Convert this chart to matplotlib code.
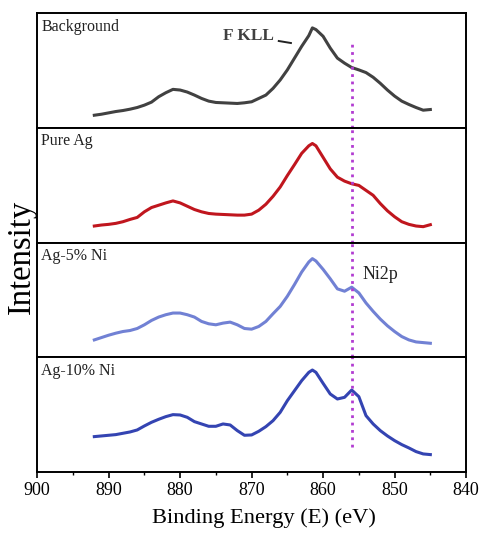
import numpy as np
import matplotlib.pyplot as plt
from matplotlib.ticker import MultipleLocator

plt.rcParams['font.family'] = ['Liberation Serif', 'DejaVu Serif']

# binding energy (eV) and intensity (a.u.)
energy = [892, 891, 890, 889, 888, 887, 886, 885, 884, 883, 882, 881, 880, 879,
          878, 877, 876, 875, 874, 873, 872, 871, 870, 869, 868, 867, 866, 865,
          864, 863, 862, 861.5, 861, 860, 859, 858, 857, 856, 855, 854, 853,
          852, 851, 850, 849, 848, 847, 846, 845]

background = [37, 40, 44, 48, 51, 55, 60, 67, 76, 92, 104, 114, 112, 106,
              97, 87, 79, 75, 74, 73, 72, 74, 77, 87, 97, 117, 142, 172,
              207, 242, 274, 297, 292, 272, 237, 207, 192, 179, 172, 164, 150,
              132, 112, 94, 79, 69, 60, 52, 54]

pure_ag = [50, 53, 55, 58, 63, 70, 76, 93, 106, 113, 120, 126, 120, 110,
           100, 93, 88, 86, 85, 84, 83, 83, 86, 98, 116, 140, 168, 203,
           236, 270, 293, 300, 293, 258, 223, 198, 186, 178, 173, 158, 143,
           118, 96, 78, 63, 55, 50, 48, 54]

ag_5ni = [52, 59, 66, 72, 77, 80, 86, 97, 110, 120, 127, 132, 132, 127,
          120, 107, 100, 97, 102, 105, 97, 86, 84, 92, 107, 130, 152, 182,
          217, 254, 284, 294, 287, 262, 234, 204, 197, 209, 192, 162, 137,
          114, 94, 77, 62, 52, 46, 44, 42]

ag_10ni = [107, 109, 111, 113, 117, 121, 127, 139, 150, 159, 167, 173, 172, 165,
           152, 145, 138, 138, 145, 142, 125, 111, 112, 123, 137, 155, 180, 215,
           245, 275, 300, 307, 300, 267, 235, 220, 225, 247, 227, 170, 145,
           125, 109, 95, 83, 73, 62, 55, 53]

labels = ['Background', 'Pure Ag', 'Ag-5% Ni', 'Ag-10% Ni']
series = [background, pure_ag, ag_5ni, ag_10ni]
colors = ['#414141', '#C0161E', '#7181D4', '#3444B2']
y_tops = [342, 348, 342, 345]
ni2p_energy = 856

fig, axes = plt.subplots(4, 1, figsize=(4.82, 5.33), dpi=100, sharex=True)
fig.subplots_adjust(left=0.077, right=0.967, bottom=0.114, top=0.976, hspace=0)

dot_span = [(0, 0.754), (0, 1), (0, 1), (0.217, 1)]

for i, ax in enumerate(axes):
    ax.plot(energy, series[i], color=colors[i], linewidth=2.2)
    ax.set_ylim(0, y_tops[i])
    ax.set_xlim(900, 840)
    ax.set_yticks([])
    ax.text(0.01, 0.95, labels[i], transform=ax.transAxes, fontsize=11.5,
            ha='left', va='top', color='#222222')
    ax.axvline(ni2p_energy, ymin=dot_span[i][0], ymax=dot_span[i][1],
               color='#B23CD2', linestyle=':', linewidth=2, clip_on=False)
    for sp in ax.spines.values():
        sp.set_linewidth(1.4)
    ax.xaxis.set_major_locator(MultipleLocator(10))
    ax.xaxis.set_minor_locator(MultipleLocator(5))
    ax.tick_params(axis='x', which='major', direction='out', length=4, width=1.2)
    ax.tick_params(axis='x', which='minor', direction='out', length=2.5, width=1)

# annotations
axes[0].text(870.5, 273, 'F KLL', fontsize=12.5, fontweight='bold', color='#404040',
             ha='center', va='center')
axes[0].plot([866.2, 864.5], [258, 252], color='#222222', linewidth=1.4)
axes[2].text(852.0, 246, 'Ni2p', fontsize=13, color='#222222', ha='center', va='center')

axes[-1].tick_params(axis='x', labelsize=13, pad=3)
axes[-1].set_xlabel('Binding Energy (E) (eV)', fontsize=16.2)
axes[-1].xaxis.set_label_coords(0.529, -0.31)
fig.text(0.045, 0.518, 'Intensity', rotation=90, fontsize=23.5, ha='center', va='center')

fig.savefig('out.png', dpi=100)
